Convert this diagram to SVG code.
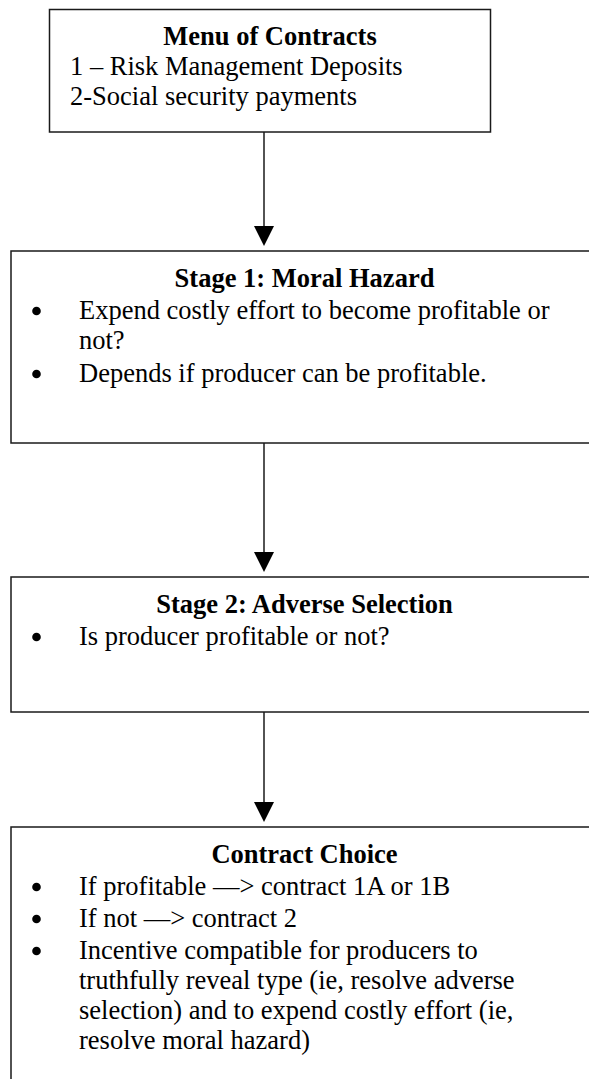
<svg xmlns="http://www.w3.org/2000/svg" width="589" height="1079" viewBox="0 0 589 1079">
  <style>
    .box { fill: #ffffff; stroke: #1a1a1a; stroke-width: 1.5; }
    .t { font-family: "Liberation Serif", "Times New Roman", serif; font-size: 26.5px; fill: #000000; }
    .title { font-weight: bold; text-anchor: middle; }
    .dot { fill: #000000; }
    .link { stroke: #1a1a1a; stroke-width: 1.5; fill: none; }
    .head { fill: #000000; }
  </style>

  <rect width="589" height="1079" fill="#ffffff"/>

  <!-- connectors -->
  <g id="connectors">
    <line class="link" x1="264" y1="132" x2="264" y2="228"/>
    <polygon class="head" points="254,226 274,226 264,246"/>
    <line class="link" x1="264" y1="443" x2="264" y2="554"/>
    <polygon class="head" points="254,552 274,552 264,572"/>
    <line class="link" x1="264" y1="712" x2="264" y2="804"/>
    <polygon class="head" points="254,802 274,802 264,822"/>
  </g>

  <!-- menu of contracts -->
  <g id="menu">
    <rect class="box" x="49.5" y="9.5" width="441" height="122.5"/>
    <text class="t title" x="270" y="45">Menu of Contracts</text>
    <text class="t" x="70" y="75">1 – Risk Management Deposits</text>
    <text class="t" x="70" y="105">2-Social security payments</text>
  </g>

  <!-- stage 1 -->
  <g id="stage1">
    <rect class="box" x="11" y="251" width="587" height="192"/>
    <text class="t title" x="304.5" y="287">Stage 1: Moral Hazard</text>
    <circle class="dot" cx="36.5" cy="311" r="4.3"/>
    <text class="t" x="79" y="319">Expend costly effort to become profitable or</text>
    <text class="t" x="79" y="349">not?</text>
    <circle class="dot" cx="36.5" cy="374" r="4.3"/>
    <text class="t" x="79" y="382">Depends if producer can be profitable.</text>
  </g>

  <!-- stage 2 -->
  <g id="stage2">
    <rect class="box" x="11" y="577" width="587" height="135"/>
    <text class="t title" x="304.5" y="613">Stage 2: Adverse Selection</text>
    <circle class="dot" cx="36.5" cy="637" r="4.3"/>
    <text class="t" x="79" y="645">Is producer profitable or not?</text>
  </g>

  <!-- contract choice -->
  <g id="choice">
    <rect class="box" x="11" y="827" width="587" height="270"/>
    <text class="t title" x="304.5" y="863">Contract Choice</text>
    <circle class="dot" cx="36.5" cy="887" r="4.3"/>
    <text class="t" x="79" y="895">If profitable —&gt; contract 1A or 1B</text>
    <circle class="dot" cx="36.5" cy="919" r="4.3"/>
    <text class="t" x="79" y="927">If not —&gt; contract 2</text>
    <circle class="dot" cx="36.5" cy="951" r="4.3"/>
    <text class="t" x="79" y="959">Incentive compatible for producers to</text>
    <text class="t" x="79" y="989">truthfully reveal type (ie, resolve adverse</text>
    <text class="t" x="79" y="1019">selection) and to expend costly effort (ie,</text>
    <text class="t" x="79" y="1049">resolve moral hazard)</text>
  </g>
</svg>
